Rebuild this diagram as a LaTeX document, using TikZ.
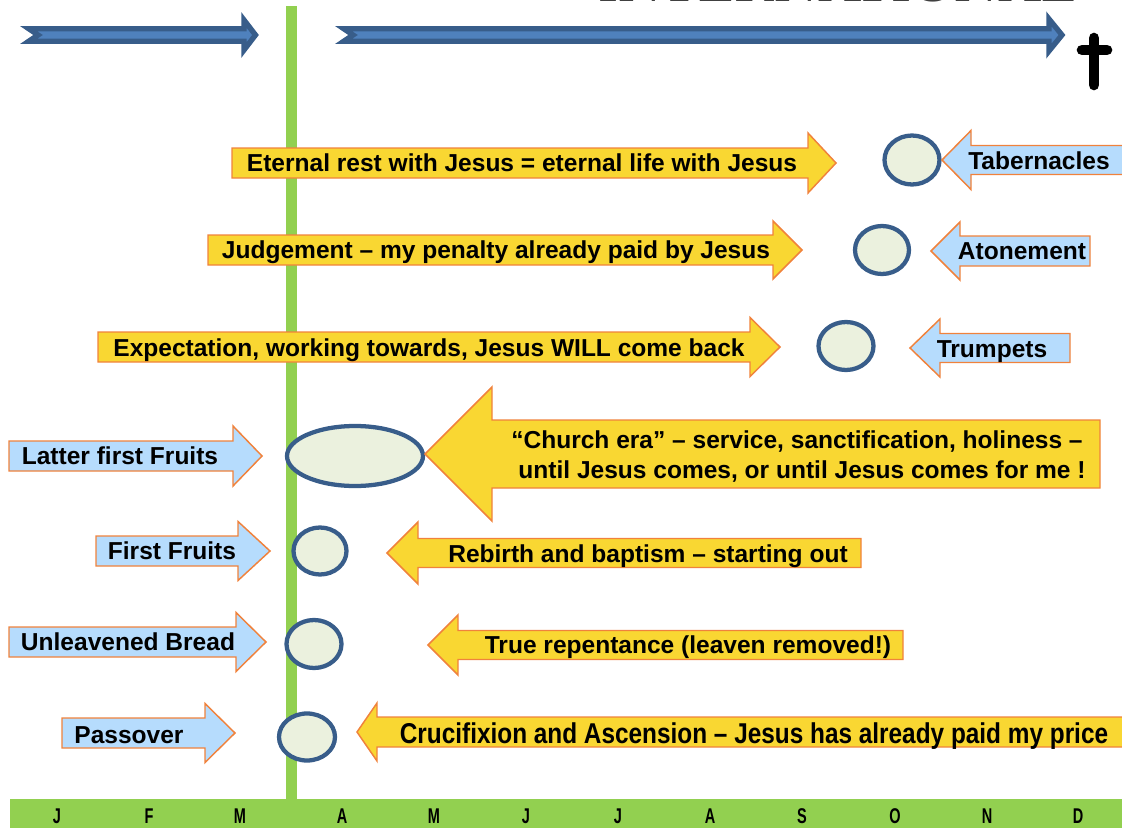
\documentclass[tikz,border=0pt]{standalone}
\usepackage{fontspec}
\setmainfont{Liberation Sans}
\newfontfamily\narrowfont[FakeStretch=0.85,Ligatures=TeX]{Liberation Sans}
\newfontfamily\monthfont[FakeStretch=0.68]{Liberation Sans}
\newfontfamily\serifband{Liberation Serif}
\usetikzlibrary{shapes.geometric}
\definecolor{yel}{RGB}{249,215,50}
\definecolor{orng}{RGB}{240,130,60}
\definecolor{lblue}{RGB}{182,220,253}
\definecolor{ovalfill}{RGB}{235,241,222}
\definecolor{ovalblue}{RGB}{56,93,138}
\definecolor{grn}{RGB}{146,208,80}
\definecolor{darkblue}{RGB}{56,93,138}
\definecolor{midblue}{RGB}{79,129,189}
% right-pointing arrow: style, left x, head x, tip x, y centre, body half, head half
\newcommand\rarr[7]{\path[#1] (#2,#5-#6) -- (#3,#5-#6) -- (#3,#5-#7) -- (#4,#5) -- (#3,#5+#7) -- (#3,#5+#6) -- (#2,#5+#6) -- cycle;}
% left-pointing arrow: style, tip x, head x, right x, y centre, body half, head half
\newcommand\larr[7]{\path[#1] (#2,#5) -- (#3,#5-#7) -- (#3,#5-#6) -- (#4,#5-#6) -- (#4,#5+#6) -- (#3,#5+#6) -- (#3,#5+#7) -- cycle;}
\begin{document}
\begin{tikzpicture}[x=0.75pt,y=-0.75pt,
  yarrow/.style={fill=yel,draw=orng,line width=1.1pt,line join=miter},
  barrow/.style={fill=lblue,draw=orng,line width=1.1pt,line join=miter},
  topArrow/.style={fill=midblue,draw=darkblue,line width=4pt,line join=miter},
  oval/.style={ellipse,fill=ovalfill,draw=ovalblue,line width=3.2pt,inner sep=0pt},
  lbl/.style={font=\bfseries\fontsize{18.4}{22}\selectfont,text height=13.25pt,text depth=0pt,inner sep=0pt},
  nlbl/.style={font=\narrowfont\bfseries\fontsize{21.5}{24}\selectfont,text height=15.5pt,text depth=0pt,inner sep=0pt},
  month/.style={font=\monthfont\bfseries\fontsize{16}{16}\selectfont,text height=11.5pt,text depth=0pt,inner sep=0pt}]
\useasboundingbox (0,0) rectangle (1122,828);

% title remnant at top (cut off)
\node[anchor=base west,inner sep=0pt,font=\serifband\fontsize{45}{45}\selectfont,text=black!75] (title) at (598,1.5) {INTERNATIONAL};

% green time line and month bar
\fill[grn] (286,6) rectangle (297,800);
\fill[grn] (10,799) rectangle (1122,828);
\foreach \m/\x [count=\i] in {J/57,F/149,M/240,A/342,M/434,J/526,J/618,A/710,S/802,O/895,N/987,D/1078}
  \node[month] (m\i) at (\x,816) {\m};

% top blue notched arrows
\path[topArrow] (28.7,28.7) -- (244,28.7) -- (244,20) -- (255.5,35) -- (244,50) -- (244,41.3) -- (28.7,41.3) -- (38,35) -- cycle;
\path[topArrow] (343.7,28.7) -- (1049,28.7) -- (1049,19) -- (1062,35) -- (1049,51) -- (1049,41.3) -- (343.7,41.3) -- (353,35) -- cycle;

% cross
\draw[line width=8pt,line cap=round] (1094,38) -- (1094,85);
\draw[line width=8pt,line cap=round] (1082,50) -- (1107,50);

% row 1
\rarr{yarrow}{232}{808}{836}{163}{15}{30}
\node[oval,minimum width={55*0.75pt},minimum height={49*0.75pt}] (o1) at (912,160) {};
\larr{barrow}{942}{971}{1130}{160}{14.5}{29.5}
\node[lbl] (t1) at (522,163) {Eternal rest with Jesus = eternal life with Jesus};
\node[lbl] (f1) at (1039,161) {Tabernacles};

% row 2
\rarr{yarrow}{208}{773}{802}{250}{15}{29}
\node[oval,minimum width={54*0.75pt},minimum height={48*0.75pt}] (o2) at (882,250) {};
\larr{barrow}{931}{960}{1090}{251}{15}{29}
\node[lbl] (t2) at (496,250) {Judgement -- my penalty already paid by Jesus};
\node[lbl] (f2) at (1022,251) {Atonement};

% row 3
\rarr{yarrow}{98}{750}{780}{347}{15}{29.5}
\node[oval,minimum width={55*0.75pt},minimum height={48*0.75pt}] (o3) at (846,346) {};
\larr{barrow}{910}{940}{1070}{348}{14.5}{29}
\node[lbl] (t3) at (429,348) {Expectation, working towards, Jesus WILL come back};
\node[lbl] (f3) at (992,349) {Trumpets};

% row 4
\rarr{barrow}{9}{233}{262}{456}{15}{30}
\node[oval,minimum width={136*0.75pt},minimum height={60*0.75pt}] (o4) at (355,456) {};
\larr{yarrow}{425}{492}{1100}{454}{34}{67}
\node[lbl] (f4) at (120,456) {Latter first Fruits};
\node[lbl] (t4a) at (797,440) {\char"201C Church era\char"201D{} -- service, sanctification, holiness --};
\node[lbl] (t4b) at (802,470) {until Jesus comes, or until Jesus comes for me !};

% row 5
\rarr{barrow}{96}{238}{270}{551}{15}{29.5}
\node[oval,minimum width={53*0.75pt},minimum height={47*0.75pt}] (o5) at (320,551) {};
\larr{yarrow}{387}{418}{861}{553}{14.5}{31}
\node[lbl] (f5) at (172,551) {First Fruits};
\node[lbl] (t5) at (648,554) {Rebirth and baptism -- starting out};

% row 6
\rarr{barrow}{9}{236}{266}{642}{15}{29.5}
\node[oval,minimum width={55*0.75pt},minimum height={48*0.75pt}] (o6) at (314,644) {};
\larr{yarrow}{428}{458}{903}{645}{14.5}{30}
\node[lbl] (f6) at (128,642) {Unleavened Bread};
\node[lbl] (t6) at (688,645) {True repentance (leaven removed!)};

% row 7
\rarr{barrow}{62}{205}{235}{733}{15}{29.5}
\node[oval,minimum width={56*0.75pt},minimum height={47*0.75pt}] (o7) at (307,737) {};
\larr{yarrow}{357}{377}{1130}{732}{15}{29}
\node[lbl] (f7) at (129,735) {Passover};
\node[nlbl] (t7) at (754,733) {Crucifixion and Ascension -- Jesus has already paid my price};
\end{tikzpicture}
\end{document}
